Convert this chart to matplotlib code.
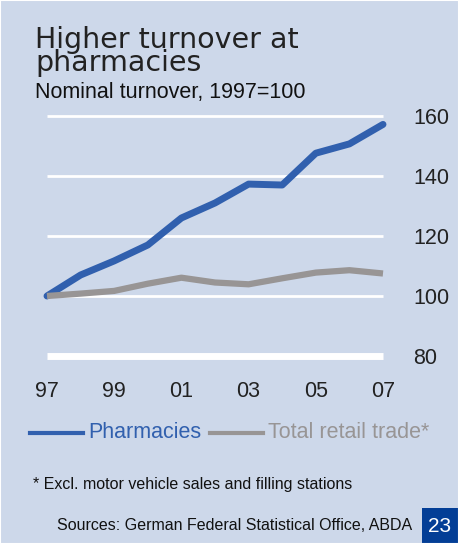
import matplotlib.pyplot as plt
from matplotlib.patches import Rectangle

years = list(range(1997, 2008))
pharmacies = [100, 107, 111.7, 117, 126, 131, 137.3, 137, 147.6, 150.7, 157.2]
retail = [100, 100.8, 101.7, 104.1, 106.1, 104.5, 103.9, 105.9, 107.8, 108.6, 107.5]
yticks = [80, 100, 120, 140, 160]
xticks = [1997, 1999, 2001, 2003, 2005, 2007]
xlabels = ["97", "99", "01", "03", "05", "07"]

BG = "#cdd8ea"
BLUE = "#3160ae"
GREY = "#989595"

plt.rcParams['font.family'] = ['Liberation Sans', 'DejaVu Sans']

fig = plt.figure(figsize=(4.59, 5.44), dpi=100, facecolor=BG)
W, H = 459, 544

# plot area: x from 97 to 07, y from 80 to 160
ax = fig.add_axes([47 / W, 1 - 356 / H, (383 - 47) / W, (356 - 116) / H])
ax.set_facecolor("none")
ax.set_xlim(1997, 2007)
ax.set_ylim(80, 160)
for s in ax.spines.values():
    s.set_visible(False)

for y in yticks:
    ax.axhline(y, color="white", lw=5 if y == 80 else 2, zorder=1,
               solid_capstyle="butt", clip_on=False)

ax.plot(years, pharmacies, color=BLUE, lw=5, zorder=3, solid_capstyle="round",
        solid_joinstyle="round", clip_on=False)
ax.plot(years, retail, color=GREY, lw=4.5, zorder=4, solid_capstyle="butt",
        solid_joinstyle="round", clip_on=False)

ax.yaxis.tick_right()
ax.set_yticks(yticks)
ax.set_xticks(xticks, xlabels)
ax.tick_params(length=0, labelsize=15.5, colors="#222222")
ax.tick_params(axis="y", pad=22)
ax.tick_params(axis="x", pad=18)

# titles
fig.text(35 / W, 1 - 71 / H, "Higher turnover at\npharmacies", fontsize=20.5,
         family="DejaVu Sans", color="#222222", va="baseline", linespacing=0.78)
fig.text(35 / W, 1 - 98 / H, "Nominal turnover, 1997=100", fontsize=15.5,
         color="#111111", va="baseline")

# legend
lg_y = 1 - 433 / H
fig.add_artist(plt.Line2D([30 / W, 83 / W], [lg_y, lg_y], color=BLUE, lw=3))
fig.text(88 / W, lg_y, "Pharmacies", color=BLUE, fontsize=15.5, va="center")
fig.add_artist(plt.Line2D([210 / W, 263 / W], [lg_y, lg_y], color=GREY, lw=3))
fig.text(268 / W, lg_y, "Total retail trade*", color=GREY, fontsize=15.5, va="center")

# notes
fig.text(33 / W, 1 - 485 / H, "* Excl. motor vehicle sales and filling stations",
         fontsize=11.5, color="#111111", va="center")
fig.text(412 / W, 1 - 526 / H, "Sources: German Federal Statistical Office, ABDA",
         fontsize=11.5, color="#111111", va="center", ha="right")

# page number box
fig.add_artist(Rectangle((422 / W, 0), 37 / W, 36 / H, transform=fig.transFigure,
                         facecolor="#033e96", edgecolor="none"))
fig.text(440 / W, 18 / H, "23", color="white", fontsize=15, ha="center", va="center")

# thin white frame
fig.add_artist(Rectangle((0, 0), 1, 1, transform=fig.transFigure,
                         facecolor="none", edgecolor="white", lw=1.5))

fig.savefig("out.png", dpi=100, facecolor=BG)
